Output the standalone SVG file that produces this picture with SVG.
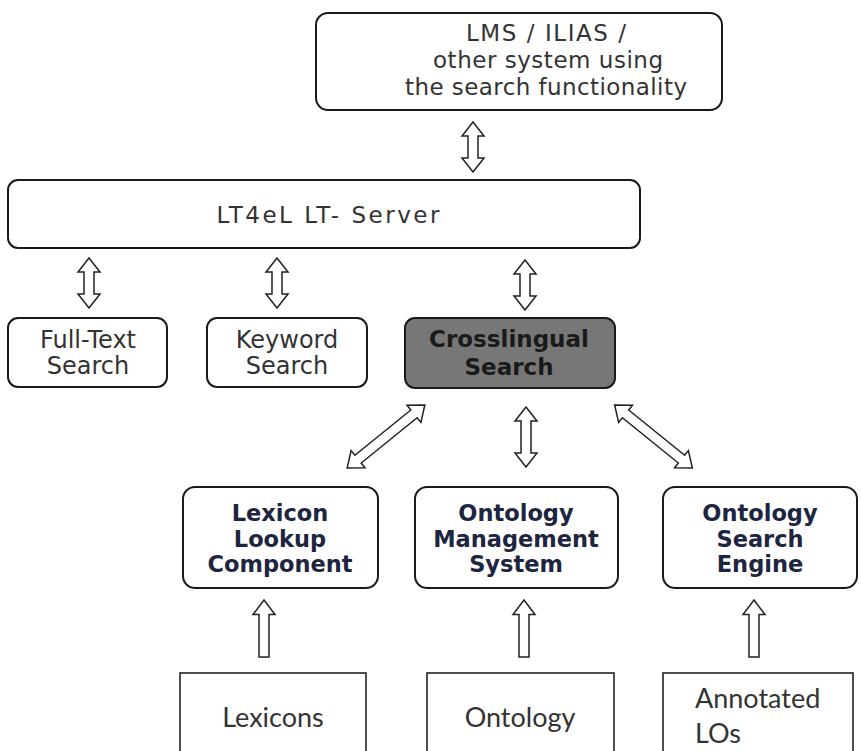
<svg xmlns="http://www.w3.org/2000/svg" xmlns:xlink="http://www.w3.org/1999/xlink" width="861" height="751" viewBox="0 0 861 751">
<style>
.box{fill:#ffffff;stroke:#1a1a1a;stroke-width:2}
.dark{fill:#777777;stroke:#1a1a1a;stroke-width:2}
.plain{fill:#ffffff;stroke:#222222;stroke-width:1.6}
.arr{fill:#ffffff;stroke:#222222;stroke-width:1.5;stroke-linejoin:miter}
.t{font-family:"DejaVu Sans",Verdana,sans-serif;fill:#333333;text-anchor:middle}
.b{font-family:"DejaVu Sans",Verdana,sans-serif;font-weight:bold;fill:#1d2540;text-anchor:middle;font-size:22.5px}
.l{font-family:Lato,"Open Sans",sans-serif;fill:#333333;font-size:27px}
</style>
<defs>
<path id="dbl50" d="M0,-25 L11,-11 L5,-11 L5,11 L11,11 L0,25 L-11,11 L-5,11 L-5,-11 L-11,-11 Z"/>
<path id="dbl60" d="M0,-30 L11,-16 L5,-16 L5,16 L11,16 L0,30 L-11,16 L-5,16 L-5,-16 L-11,-16 Z"/>
<path id="dbl100" d="M0,-50 L11,-36 L5,-36 L5,36 L11,36 L0,50 L-11,36 L-5,36 L-5,-36 L-11,-36 Z"/>
<path id="up57" d="M0,-28.5 L11,-14 L5,-14 L5,28.5 L-5,28.5 L-5,-14 L-11,-14 Z"/>
</defs>

<g id="connectors">
<use xlink:href="#dbl50" class="arr" transform="translate(473,147)"/>
<use xlink:href="#dbl50" class="arr" transform="translate(89,283)"/>
<use xlink:href="#dbl50" class="arr" transform="translate(277,283)"/>
<use xlink:href="#dbl50" class="arr" transform="translate(525,285)"/>
<use xlink:href="#dbl60" class="arr" transform="translate(526,437)"/>
<use xlink:href="#dbl100" class="arr" transform="translate(386,436.5) rotate(51)"/>
<use xlink:href="#dbl100" class="arr" transform="translate(653.5,436.5) rotate(-51)"/>
<use xlink:href="#up57" class="arr" transform="translate(264,628.5)"/>
<use xlink:href="#up57" class="arr" transform="translate(524,628.5)"/>
<use xlink:href="#up57" class="arr" transform="translate(754,628.5)"/>
</g>

<g id="lms">
<rect class="box" x="316" y="13" width="406" height="97" rx="12"/>
<text class="t" font-size="23" x="546" y="41" textLength="160" lengthAdjust="spacing">LMS / ILIAS /</text>
<text class="t" font-size="23" x="548" y="68" textLength="230" lengthAdjust="spacing">other system using</text>
<text class="t" font-size="23" x="546" y="95" textLength="282" lengthAdjust="spacing">the search functionality</text>
</g>

<g id="server">
<rect class="box" x="8" y="180" width="632" height="68" rx="10"/>
<text class="t" font-size="23" x="328" y="223" textLength="223" lengthAdjust="spacing">LT4eL LT- Server</text>
</g>

<g id="fulltext">
<rect class="box" x="8" y="318" width="159" height="69" rx="10"/>
<text class="t" font-size="24" x="88" y="348">Full-Text</text>
<text class="t" font-size="24" x="88" y="374">Search</text>
</g>

<g id="keyword">
<rect class="box" x="207" y="318" width="160" height="69" rx="10"/>
<text class="t" font-size="24" x="287" y="348">Keyword</text>
<text class="t" font-size="24" x="287" y="374">Search</text>
</g>

<g id="crosslingual">
<rect class="dark" x="405" y="318" width="210" height="70" rx="10"/>
<text class="b" style="fill:#1a1a1a;font-size:23px" x="509" y="347">Crosslingual</text>
<text class="b" style="fill:#1a1a1a;font-size:23px" x="509" y="375">Search</text>
</g>

<g id="lexicon">
<rect class="box" x="183" y="487" width="195" height="101" rx="12"/>
<text class="b" x="280" y="521">Lexicon</text>
<text class="b" x="280" y="546.5">Lookup</text>
<text class="b" x="280" y="572">Component</text>
</g>

<g id="ontmgmt">
<rect class="box" x="415" y="487" width="203" height="101" rx="12"/>
<text class="b" x="516" y="521">Ontology</text>
<text class="b" x="516" y="546.5">Management</text>
<text class="b" x="516" y="572">System</text>
</g>

<g id="ontsearch">
<rect class="box" x="663" y="487" width="194" height="101" rx="12"/>
<text class="b" x="760" y="521">Ontology</text>
<text class="b" x="760" y="546.5">Search</text>
<text class="b" x="760" y="572">Engine</text>
</g>

<g id="lexicons">
<rect class="plain" x="180" y="673" width="186" height="100"/>
<text class="l" x="273" y="727" text-anchor="middle">Lexicons</text>
</g>

<g id="ontology">
<rect class="plain" x="427" y="673" width="187" height="100"/>
<text class="l" x="520" y="727" text-anchor="middle">Ontology</text>
</g>

<g id="annotated">
<rect class="plain" x="663" y="673" width="190" height="100"/>
<text class="l" x="695" y="708">Annotated</text>
<text class="l" x="695" y="743">LOs</text>
</g>
</svg>
